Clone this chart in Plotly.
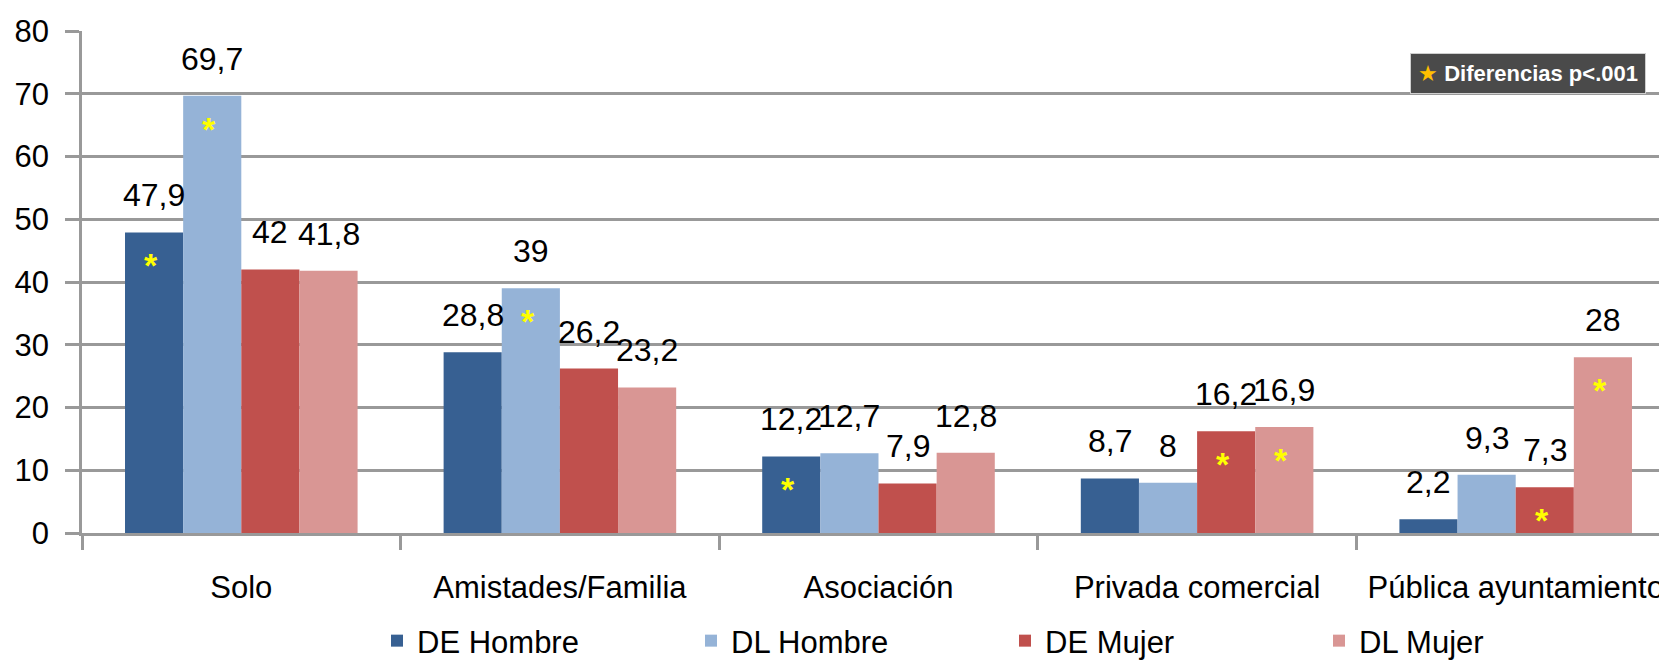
import plotly.graph_objects as go

categories = ["Solo", "Amistades/Familia", "Asociación", "Privada comercial", "Pública ayuntamiento"]
series_names = ["DE Hombre", "DL Hombre", "DE Mujer", "DL Mujer"]
de_hombre = [47.9, 28.8, 12.2, 8.7, 2.2]
dl_hombre = [69.7, 39, 12.7, 8, 9.3]
de_mujer = [42, 26.2, 7.9, 16.2, 7.3]
dl_mujer = [41.8, 23.2, 12.8, 16.9, 28]
# significant difference markers (p<.001) per bar
sig_de_hombre = [1, 0, 1, 0, 0]
sig_dl_hombre = [1, 1, 0, 0, 0]
sig_de_mujer = [0, 0, 0, 1, 1]
sig_dl_mujer = [0, 0, 0, 1, 1]
y_ticks = [0, 10, 20, 30, 40, 50, 60, 70, 80]

series = [de_hombre, dl_hombre, de_mujer, dl_mujer]
sigs = [sig_de_hombre, sig_dl_hombre, sig_de_mujer, sig_dl_mujer]
colors = ["#376092", "#95b3d7", "#c0504d", "#d99694"]

FONT = "Liberation Sans, Arial, sans-serif"
W, H = 1667, 660
ML, MT, MB = 74, 23, 135
BARGAP = 0.27
XR = [-0.5, 4.5]

plot_w = W - ML
plot_h = H - MT - MB
cat_px = plot_w / (XR[1] - XR[0])
bar_px = cat_px * (1 - BARGAP) / len(series)

def fmt(v):
    return f"{v:g}".replace(".", ",")

fig = go.Figure()
for name, vals, col in zip(series_names, series, colors):
    fig.add_trace(go.Bar(x=categories, y=vals, name=name, marker_color=col,
                         marker_line_width=0))

annotations = []
for j, (vals, sg) in enumerate(zip(series, sigs)):
    xs = (j - (len(series) - 1) / 2) * bar_px
    for cat, v, s in zip(categories, vals, sg):
        annotations.append(dict(x=cat, y=v, xref="x", yref="y", text=fmt(v),
                                showarrow=False, xshift=xs, yshift=17, yanchor="bottom",
                                font=dict(family=FONT, size=32, color="#000000")))
        if s:
            annotations.append(dict(x=cat, y=v, xref="x", yref="y", text="<b>*</b>",
                                    showarrow=False, xshift=xs - 3, yshift=-33, yanchor="middle",
                                    font=dict(family=FONT, size=34, color="#ffff00")))

annotations.append(dict(xref="paper", yref="paper", x=(1520 - ML) / plot_w,
                        y=(H - MB - 65) / plot_h, xanchor="center", yanchor="middle",
                        showarrow=False, bgcolor="#4a4a4a", bordercolor="#cfcfcf", borderwidth=1,
                        borderpad=7,
                        text="<span style='color:#ffc000'>★</span> <b>Diferencias p&lt;.001</b>",
                        font=dict(family=FONT, size=22, color="#ffffff")))

fig.update_layout(
    template="none",
    width=W, height=H,
    margin=dict(l=ML, r=0, t=MT, b=MB, autoexpand=False),
    paper_bgcolor="#ffffff", plot_bgcolor="#ffffff",
    barmode="group", bargap=BARGAP, bargroupgap=0,
    font=dict(family=FONT, size=31, color="#000000"),
    showlegend=True,
    legend=dict(orientation="h", xref="container", yref="container",
                x=369 / W, y=1 - 633 / H, xanchor="left", yanchor="middle",
                font=dict(family=FONT, size=31, color="#000000"),
                entrywidth=269, entrywidthmode="pixels", itemwidth=30,
                bgcolor="rgba(0,0,0,0)"),
    annotations=annotations,
    xaxis=dict(type="category", range=XR, showgrid=False, showline=True, automargin=False,
               linecolor="#999999", linewidth=2.5, ticks="outside", tickson="boundaries",
               ticklen=14, tickcolor="#999999", tickwidth=2.5, tickangle=0,
               tickfont=dict(family=FONT, size=31, color="#000000"),
               ticklabelstandoff=25),
    yaxis=dict(range=[0, 80], tickvals=y_ticks, showgrid=True, gridcolor="#999999",
               gridwidth=2.5, showline=True, linecolor="#999999", linewidth=2.5, automargin=False,
               ticks="outside", ticklen=14, tickcolor="#999999", tickwidth=2.5,
               tickfont=dict(family=FONT, size=31, color="#000000"),
               ticklabelstandoff=10, zeroline=False),
)

fig.write_html("out.html")
